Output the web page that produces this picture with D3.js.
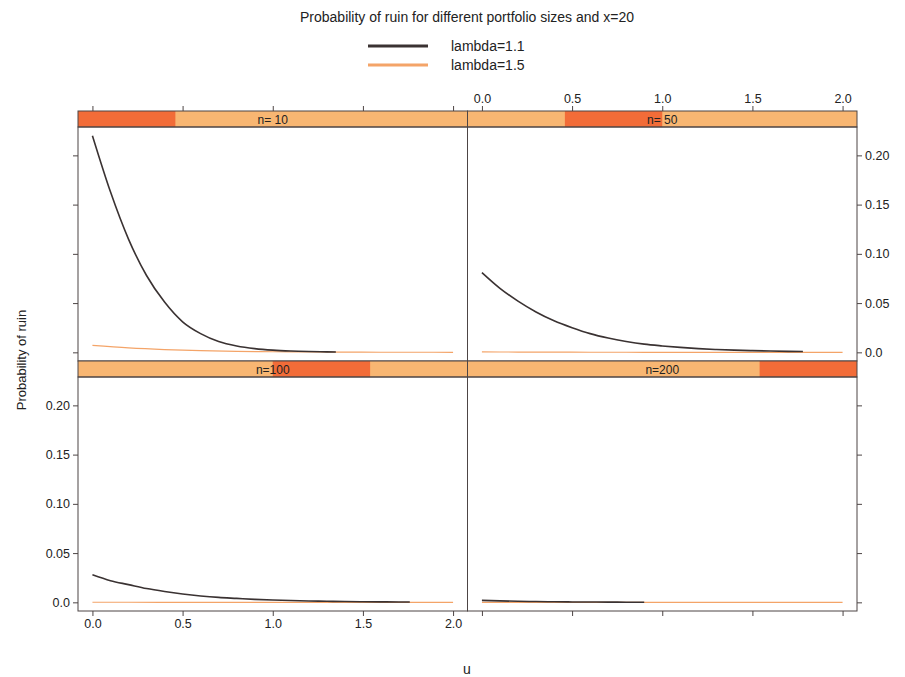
<!DOCTYPE html>
<html>
<head>
<meta charset="utf-8">
<script src="https://cdn.jsdelivr.net/npm/d3@7"></script>
<style>
  body { margin: 0; background: #fff; }
  text { font-family: "Liberation Sans", Arial, sans-serif; fill: #222; }
</style>
</head>
<body>
<script>
// panels in lattice order
var panels = ["n= 10", "n= 50", "n=100", "n=200"];
var seriesNames = ["lambda=1.1", "lambda=1.5"];
var xTicks = [0, 0.5, 1, 1.5, 2];
var xTickLabels = ["0.0", "0.5", "1.0", "1.5", "2.0"];
var yTicks = [0, 0.05, 0.10, 0.15, 0.20];
var yTickLabels = ["0.0", "0.05", "0.10", "0.15", "0.20"];

// u values and probability of ruin
var u10 = [0, 0.1, 0.2, 0.3, 0.4, 0.5, 0.6, 0.7, 0.8, 0.9, 1.0, 1.1, 1.2, 1.3, 1.35];
var n10_l11 = [0.220, 0.163, 0.115, 0.078, 0.051, 0.031, 0.019, 0.011, 0.0065, 0.0038, 0.0022, 0.0013, 0.0008, 0.0005, 0.0004];
var u50 = [0, 0.1, 0.2, 0.3, 0.4, 0.5, 0.6, 0.7, 0.8, 0.9, 1.0, 1.1, 1.2, 1.3, 1.4, 1.5, 1.6, 1.7, 1.78];
var n50_l11 = [0.081, 0.065, 0.052, 0.041, 0.032, 0.025, 0.019, 0.0145, 0.011, 0.0083, 0.0065, 0.005, 0.0038, 0.0029, 0.0022, 0.0017, 0.0013, 0.001, 0.0008];
var u100 = [0, 0.1, 0.2, 0.3, 0.4, 0.5, 0.6, 0.7, 0.8, 0.9, 1.0, 1.1, 1.2, 1.3, 1.4, 1.5, 1.6, 1.7, 1.76];
var n100_l11 = [0.028, 0.022, 0.018, 0.014, 0.011, 0.0085, 0.0065, 0.005, 0.004, 0.003, 0.0023, 0.0018, 0.0014, 0.0011, 0.0008, 0.0006, 0.0005, 0.0004, 0.0003];
var u200 = [0, 0.1, 0.2, 0.3, 0.4, 0.5, 0.6, 0.7, 0.8, 0.9];
var n200_l11 = [0.002, 0.0015, 0.0011, 0.0008, 0.0006, 0.0004, 0.0003, 0.0002, 0.00015, 0.0001];
var uFull = [0, 0.2, 0.4, 0.6, 0.8, 1.0, 1.2, 1.4, 1.6, 1.8, 2.0];
var n10_l15 = [0.007, 0.0045, 0.0028, 0.0017, 0.001, 0.0006, 0.0004, 0.0002, 0.0001, 0.0001, 0.0];
var n50_l15 = [0.0004, 0.0003, 0.0002, 0.0001, 0.0001, 0, 0, 0, 0, 0, 0];
var n100_l15 = [0.0001, 0.0001, 0, 0, 0, 0, 0, 0, 0, 0, 0];
var n200_l15 = [0, 0, 0, 0, 0, 0, 0, 0, 0, 0, 0];

function zip(us, vs) { return us.map(function(u, i) { return {u: u, p: vs[i]}; }); }

var panelData = [
  [zip(u10, n10_l11), zip(uFull, n10_l15)],
  [zip(u50, n50_l11), zip(uFull, n50_l15)],
  [zip(u100, n100_l11), zip(uFull, n100_l15)],
  [zip(u200, n200_l11), zip(uFull, n200_l15)]
];

var colors = ["#3a3232", "#f4a468"];
var border = "#4d4545";

var W = 905, H = 677;
var left = 78, right = 857, top0 = 111, stripH = 16, plotH = 234;
var pw = (right - left) / 2;

var svg = d3.select("body").append("svg")
    .attr("width", W)
    .attr("height", H);

var x = d3.scaleLinear().domain([-0.08, 2.08]).range([0, pw]);
var y = d3.scaleLinear().domain([-0.0088, 0.2288]).range([plotH, 0]);

var line = d3.line()
    .curve(d3.curveMonotoneX)
    .x(function(d) { return x(d.u); })
    .y(function(d) { return y(d.p); });

// title
svg.append("text")
    .attr("x", 467).attr("y", 22)
    .attr("text-anchor", "middle")
    .style("font-size", "14px")
    .text("Probability of ruin for different portfolio sizes and x=20");

// legend
seriesNames.forEach(function(s, i) {
  var ly = 46 + i * 19;
  svg.append("line")
      .attr("x1", 368).attr("x2", 428)
      .attr("y1", ly).attr("y2", ly)
      .attr("stroke", colors[i]).attr("stroke-width", 3);
  svg.append("text")
      .attr("x", 451).attr("y", ly + 5)
      .style("font-size", "14px")
      .text(s);
});

// panels: row 0 is the top row (n=10, n=50), row 1 bottom (n=100, n=200)
panels.forEach(function(name, k) {
  var col = k % 2, row = Math.floor(k / 2);
  var px = left + col * pw;
  var stripY = top0 + row * (stripH + plotH);
  var g = svg.append("g").attr("transform", "translate(" + px + "," + stripY + ")");

  // strip with level marker
  g.append("rect")
      .attr("width", pw).attr("height", stripH)
      .attr("fill", "#f8b672");
  g.append("rect")
      .attr("x", k * pw / 4).attr("width", pw / 4).attr("height", stripH)
      .attr("fill", "#f26c38");
  g.append("rect")
      .attr("width", pw).attr("height", stripH)
      .attr("fill", "none").attr("stroke", border);
  g.append("text")
      .attr("x", pw / 2).attr("y", stripH - 3)
      .attr("text-anchor", "middle")
      .style("font-size", "12px")
      .text(name);

  var p = g.append("g").attr("transform", "translate(0," + stripH + ")");
  p.append("rect")
      .attr("width", pw).attr("height", plotH)
      .attr("fill", "none").attr("stroke", border);

  panelData[k].slice().reverse().forEach(function(ser, j) {
    var si = 1 - j;
    p.append("path")
        .datum(ser)
        .attr("d", line)
        .attr("fill", "none")
        .attr("stroke", colors[si])
        .attr("stroke-width", si === 0 ? 1.6 : 1.2);
  });

  // y axes
  var yl = d3.axisLeft(y).tickValues(yTicks).tickSizeOuter(0).tickSize(5)
      .tickFormat(function(d, i) { return col === 0 && row === 1 ? yTickLabels[i] : ""; });
  var yr = d3.axisRight(y).tickValues(yTicks).tickSizeOuter(0).tickSize(5)
      .tickFormat(function(d, i) { return col === 1 && row === 0 ? yTickLabels[i] : ""; });
  if (col === 0) p.append("g").attr("class", "axis").call(yl);
  if (col === 1) p.append("g").attr("class", "axis").attr("transform", "translate(" + pw + ",0)").call(yr);

  // x axes: top row on top of strip, bottom row below the plot
  if (row === 0) {
    var xt = d3.axisTop(x).tickValues(xTicks).tickSizeOuter(0).tickSize(5)
        .tickFormat(function(d, i) { return col === 1 ? xTickLabels[i] : ""; });
    g.append("g").attr("class", "axis").call(xt);
  } else {
    var xb = d3.axisBottom(x).tickValues(xTicks).tickSizeOuter(0).tickSize(5)
        .tickFormat(function(d, i) { return col === 0 ? xTickLabels[i] : ""; });
    p.append("g").attr("class", "axis").attr("transform", "translate(0," + plotH + ")").call(xb);
  }
});

svg.selectAll(".axis .domain").remove();
svg.selectAll(".axis line").attr("stroke", border);
svg.selectAll(".axis text")
    .style("font-size", "12.5px")
    .style("font-family", "'Liberation Sans', Arial, sans-serif")
    .attr("fill", "#222");

// axis titles
svg.append("text")
    .attr("transform", "translate(26,360) rotate(-90)")
    .attr("text-anchor", "middle")
    .style("font-size", "13px")
    .text("Probability of ruin");

svg.append("text")
    .attr("x", 467).attr("y", 674)
    .attr("text-anchor", "middle")
    .style("font-size", "14px")
    .text("u");
</script>
</body>
</html>
